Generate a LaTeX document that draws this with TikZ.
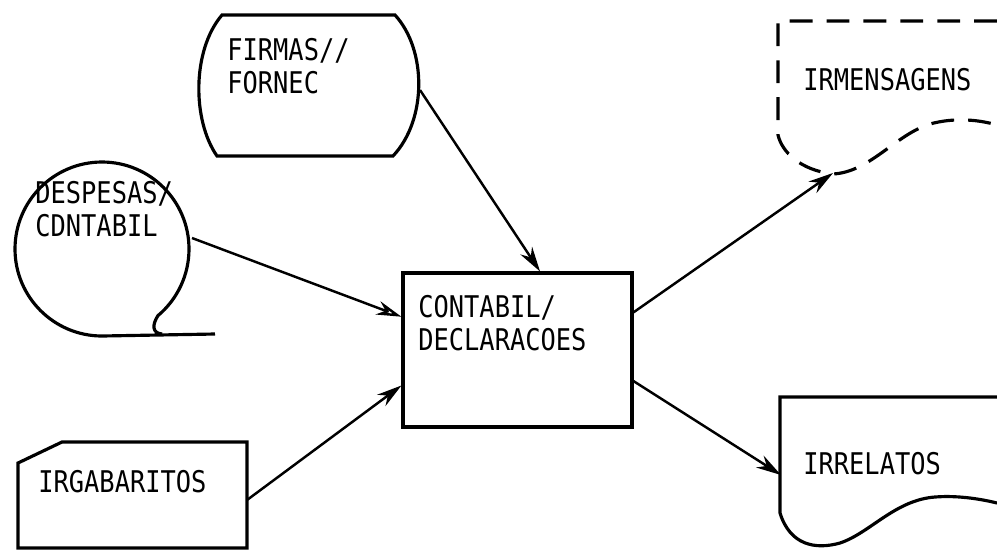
\documentclass[tikz,border=0pt]{standalone}
\usepackage{fontspec}
\newfontfamily\mono[FakeStretch=0.85]{DejaVu Sans Mono}
\usetikzlibrary{arrows.meta}
\tikzset{
  lbl/.style={inner sep=0pt, anchor=north west, align=left, font={\mono\fontsize{17}{18.5}\selectfont}},
  outline/.style={line width=1.8pt},
  flow/.style={line width=1.4pt, -{Stealth[length=5mm,width=2.8mm]}},
  flowopen/.style={line width=1.4pt, -{Stealth[open,length=5mm,width=2.8mm]}}
}
\begin{document}
\begin{tikzpicture}[x=0.02cm,y=-0.02cm]
\useasboundingbox (0,0) rectangle (997,552);
\begin{scope}[outline]
\draw (222,15) -- (395,15) .. controls (427,50) and (427,120) .. (393,156) -- (217,156) .. controls (192,120) and (192,50) .. cycle;
\draw (215,334) -- (102,336) arc [start angle=90, end angle=410, radius=87] .. controls (152,325) and (152,333) .. (162,334);
\draw (62,442) -- (247,442) -- (247,548) -- (18,548) -- (18,463) -- cycle;
\draw[dash pattern=on 13pt off 8pt] (997,21) -- (778,21) -- (778,135) .. controls (782,152) and (800,170) .. (833,174) .. controls (870,172) and (895,135) .. (930,124) .. controls (955,117) and (980,120) .. (997,125);
\draw (997,397) -- (780,397) -- (780,513) .. controls (790,545) and (815,550) .. (840,543) .. controls (870,533) and (895,500) .. (935,497) .. controls (960,495) and (985,500) .. (997,503);
\end{scope}
\node[outline, draw, minimum width=4.58cm, minimum height=3.08cm, inner sep=0pt] (contabil) at (517.5,350) {};
\node[lbl] (firmas) at (227,38) {FIRMAS//\\FORNEC};
\node[lbl] (despesas) at (35,181) {DESPESAS/\\CDNTABIL};
\node[lbl] (gabaritos) at (38,470) {IRGABARITOS};
\node[lbl] (declaracoes) at (418,295) {CONTABIL/\\DECLARACOES};
\node[lbl] (mensagens) at (803,68) {IRMENSAGENS};
\node[lbl] (relatos) at (803,452) {IRRELATOS};
\coordinate (firmas-out) at (420,90);
\coordinate (despesas-out) at (192,238);
\coordinate (gabaritos-out) at (247,500);
\coordinate (mensagens-in) at (833,173);
\coordinate (relatos-in) at (781,475);
\draw[flow] (firmas-out) -- (contabil.74);
\draw[flowopen] (despesas-out) -- (contabil.164);
\draw[flow] (gabaritos-out) -- (contabil.197);
\draw[flow] (contabil.18) -- (mensagens-in);
\draw[flow] (contabil.345) -- (relatos-in);
\end{tikzpicture}
\end{document}
